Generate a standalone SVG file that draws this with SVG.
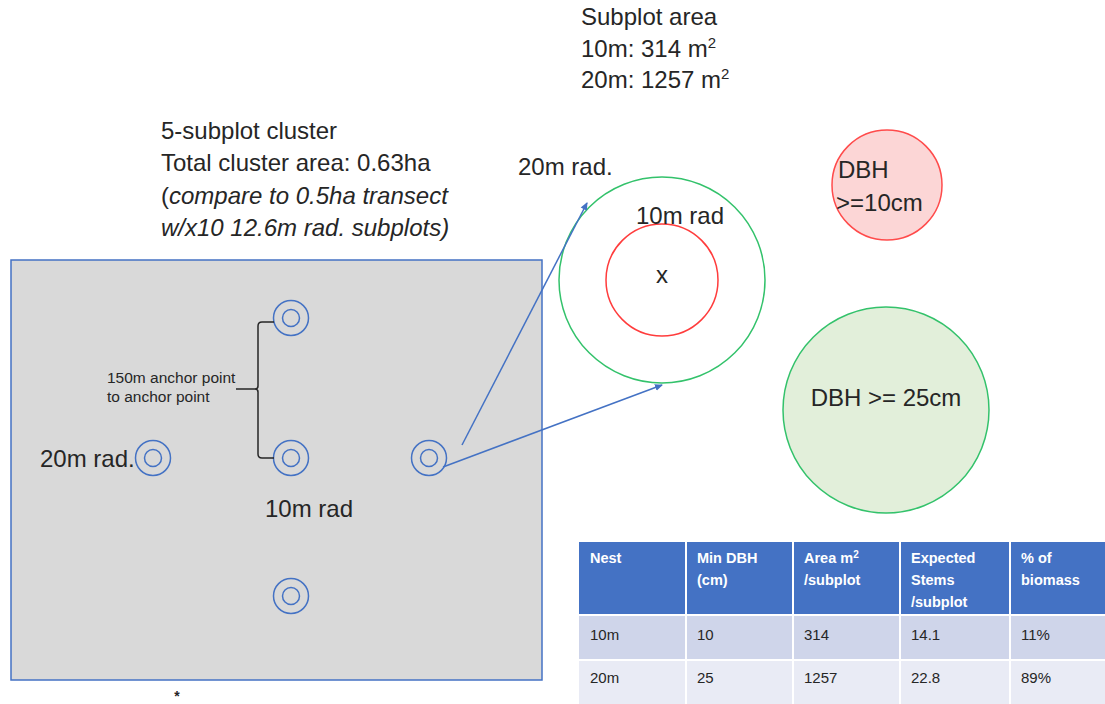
<svg xmlns="http://www.w3.org/2000/svg" width="1105" height="704" viewBox="0 0 1105 704">
<style>
.t{font-family:"Liberation Sans",Arial,sans-serif;fill:#262626}
.b24{font-size:24px}
.sm{font-size:15.5px}
.it{font-style:italic}
.sp{stroke:#4472c4;stroke-width:1.5;fill:none}
.hd{font-family:"Liberation Sans",Arial,sans-serif;font-size:14.5px;font-weight:bold;fill:#fff}
.cell{font-family:"Liberation Sans",Arial,sans-serif;font-size:15px;fill:#262626}
.conn{stroke:#4472c4;stroke-width:1.5;fill:none}
</style>
<defs>
<marker id="ah" markerWidth="8" markerHeight="8" refX="7" refY="4" orient="auto" markerUnits="userSpaceOnUse">
<path d="M0,0.5 L8,4 L0,7.5 Z" fill="#4472c4"/>
</marker>
</defs>
<rect width="1105" height="704" fill="#fff"/>

<g id="subplot-area-text">
<text class="t b24" x="581" y="25">Subplot area</text>
<text class="t b24" x="581" y="57">10m: 314 m<tspan font-size="15" dy="-9">2</tspan></text>
<text class="t b24" x="581" y="88">20m: 1257 m<tspan font-size="15" dy="-9">2</tspan></text>
</g>

<g id="cluster-text">
<text class="t b24" x="161" y="139">5-subplot cluster</text>
<text class="t b24" x="161" y="171">Total cluster area: 0.63ha</text>
<text class="t b24" x="161" y="204">(<tspan class="it">compare to 0.5ha transect</tspan></text>
<text class="t b24 it" x="161" y="236">w/x10 12.6m rad. subplots)</text>
</g>

<g id="cluster">
<rect x="11" y="260" width="531" height="420" fill="#d9d9d9" stroke="#4472c4" stroke-width="1.5"/>
</g>

<g id="subplot-n">
<circle class="sp" cx="291" cy="318" r="17.5"/><circle class="sp" cx="291" cy="318" r="8.5"/>
</g>
<g id="subplot-c">
<circle class="sp" cx="291" cy="458" r="17.5"/><circle class="sp" cx="291" cy="458" r="8.5"/>
</g>
<g id="subplot-w">
<circle class="sp" cx="153" cy="458" r="17.5"/><circle class="sp" cx="153" cy="458" r="8.5"/>
</g>
<g id="subplot-e">
<circle class="sp" cx="429" cy="458" r="17.5"/><circle class="sp" cx="429" cy="458" r="8.5"/>
</g>
<g id="subplot-s">
<circle class="sp" cx="291" cy="596" r="17.5"/><circle class="sp" cx="291" cy="596" r="8.5"/>
</g>

<g id="cluster-labels">
<text class="t b24" x="40" y="467">20m rad.</text>
<text class="t b24" x="265" y="517">10m rad</text>
<text class="t sm" x="107" y="383">150m anchor point</text>
<text class="t sm" x="107" y="402">to anchor point</text>
<path d="M274,322 L262,322 Q258,322 258,326 L258,386 Q258,389 255,389 L236,389 M255,389 Q258,389 258,392 L258,454 Q258,458 262,458 L274,458" fill="none" stroke="#262626" stroke-width="1.5"/>
</g>

<g id="subplot-detail">
<circle cx="662" cy="280" r="103" fill="#fff" stroke="#33c26b" stroke-width="1.5"/>
<circle cx="662" cy="280" r="56" fill="none" stroke="#ff3c3c" stroke-width="1.5"/>
<text class="t b24" x="662" y="283" text-anchor="middle">x</text>
<text class="t b24" x="636" y="224">10m rad</text>
<text class="t b24" x="518" y="175">20m rad.</text>
</g>

<g id="dbh10">
<circle cx="887" cy="185" r="55" fill="#fcd6d6" stroke="#ff4b4b" stroke-width="1.5"/>
<text class="t b24" x="838" y="178">DBH</text>
<text class="t b24" x="836" y="211">&gt;=10cm</text>
</g>

<g id="dbh25">
<circle cx="886" cy="410" r="103" fill="#e2efda" stroke="#33c26b" stroke-width="1.5"/>
<text class="t b24" x="886" y="406" text-anchor="middle">DBH &gt;= 25cm</text>
</g>

<g id="connectors">
<line class="conn" x1="462" y1="445" x2="587" y2="203" marker-end="url(#ah)"/>
<line class="conn" x1="443" y1="467" x2="662" y2="385" marker-end="url(#ah)"/>
</g>

<g id="table">
<rect x="579" y="542" width="526" height="73" fill="#4472c4"/>
<rect x="579" y="615" width="526" height="45" fill="#cfd5ea"/>
<rect x="579" y="660" width="526" height="44" fill="#e9ebf5"/>
<g stroke="#fff" stroke-width="2">
<line x1="579" y1="615" x2="1105" y2="615"/>
<line x1="579" y1="660" x2="1105" y2="660"/>
<line x1="686" y1="542" x2="686" y2="704"/>
<line x1="793" y1="542" x2="793" y2="704"/>
<line x1="900" y1="542" x2="900" y2="704"/>
<line x1="1010" y1="542" x2="1010" y2="704"/>
</g>
<text class="hd" x="590" y="563">Nest</text>
<text class="hd" x="697" y="563">Min DBH</text>
<text class="hd" x="697" y="585">(cm)</text>
<text class="hd" x="804" y="563">Area m<tspan font-size="10" dy="-5">2</tspan></text>
<text class="hd" x="804" y="585">/subplot</text>
<text class="hd" x="911" y="563">Expected</text>
<text class="hd" x="911" y="585">Stems</text>
<text class="hd" x="911" y="607">/subplot</text>
<text class="hd" x="1021" y="563">% of</text>
<text class="hd" x="1021" y="585">biomass</text>
<text class="cell" x="590" y="640">10m</text>
<text class="cell" x="697" y="640">10</text>
<text class="cell" x="804" y="640">314</text>
<text class="cell" x="911" y="640">14.1</text>
<text class="cell" x="1021" y="640">11%</text>
<text class="cell" x="590" y="683">20m</text>
<text class="cell" x="697" y="683">25</text>
<text class="cell" x="804" y="683">1257</text>
<text class="cell" x="911" y="683">22.8</text>
<text class="cell" x="1021" y="683">89%</text>
</g>

<text class="t" x="177" y="701" font-size="14" font-weight="bold" text-anchor="middle">*</text>
</svg>
